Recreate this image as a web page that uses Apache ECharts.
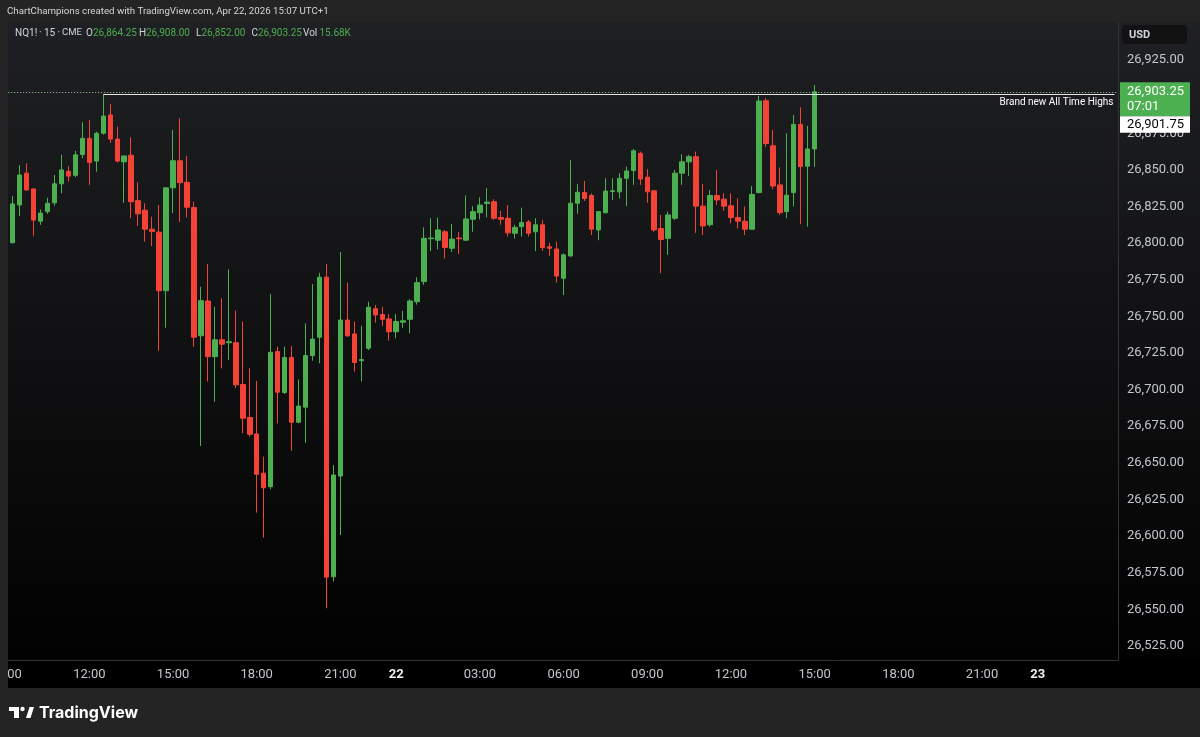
<!DOCTYPE html>
<html>
<head>
<meta charset="utf-8">
<title>NQ1! 15m</title>
<script src="https://cdn.jsdelivr.net/npm/echarts@6/dist/echarts.min.js"></script>
<style>
  html, body { margin: 0; padding: 0; background: #242424; }
  #chart { width: 1200px; height: 737px; }
</style>
</head>
<body>
<div id="chart"></div>
<script>
// NQ1! 15m, bars from Apr 21 09:15 to Apr 22 15:00 (CME break 22:00-23:00 is skipped)
const firstBar = 1; // the 09:00 bar sits under the left frame
const opens = [
  26800.25, 26826.0, 26847.75, 26837.0, 26815.0, 26821.5, 26827.5, 26840.5, 26849.0, 26846.25,
  26860.5, 26871.5, 26856.0, 26875.0, 26887.5, 26871.0, 26855.5, 26860.0, 26829.0, 26822.5,
  26809.5, 26807.5, 26767.5, 26837.75, 26856.25, 26841.5, 26824.25, 26736.75, 26760.5, 26722.5,
  26734.0, 26732.0, 26732.0, 26703.5, 26681.0, 26669.75, 26643.0, 26633.75, 26726.0, 26698.0,
  26722.0, 26677.75, 26688.0, 26723.25, 26735.75, 26776.75, 26572.25, 26641.0, 26747.5, 26738.0,
  26719.75, 26728.25, 26755.25, 26751.25, 26748.25, 26739.5, 26746.0, 26748.0, 26760.0, 26773.75,
  26803.0, 26802.0, 26807.75, 26796.5, 26803.5, 26802.0, 26816.25, 26820.75, 26827.0, 26828.25,
  26817.5, 26817.0, 26806.75, 26811.25, 26814.5, 26807.75, 26812.5, 26797.5, 26796.0, 26776.0,
  26791.25, 26827.25, 26834.5, 26832.5, 26809.0, 26820.75, 26835.25, 26835.0, 26844.25, 26849.5,
  26861.25, 26845.0, 26835.75, 26810.0, 26803.25, 26817.0, 26847.75, 26855.5, 26859.0, 26825.25,
  26812.5, 26832.5, 26830.0, 26825.5, 26817.5, 26815.0, 26809.5, 26834.5, 26897.25, 26866.5,
  26839.75, 26821.5, 26834.5, 26881.0, 26852.5, 26864.25
];
const closes = [
  26826.75, 26846.5, 26836.25, 26815.75, 26820.5, 26827.25, 26840.5, 26850.0, 26845.75, 26860.25,
  26871.5, 26855.0, 26875.0, 26886.75, 26871.0, 26856.0, 26859.5, 26828.25, 26820.0, 26809.5,
  26808.0, 26767.5, 26837.75, 26856.25, 26841.25, 26824.5, 26735.75, 26760.75, 26722.5, 26734.0,
  26731.0, 26732.75, 26703.25, 26680.5, 26669.5, 26642.25, 26633.0, 26725.5, 26698.25, 26722.0,
  26677.75, 26688.75, 26723.25, 26734.5, 26776.75, 26572.0, 26641.75, 26747.5, 26736.75, 26718.5,
  26720.5, 26756.25, 26751.0, 26748.0, 26739.5, 26746.5, 26747.0, 26760.5, 26773.0, 26803.25,
  26803.5, 26809.0, 26797.0, 26802.75, 26803.0, 26816.5, 26821.5, 26826.0, 26828.0, 26817.0,
  26816.25, 26807.0, 26810.75, 26814.0, 26806.75, 26812.5, 26797.0, 26796.5, 26777.5, 26792.0,
  26827.25, 26834.75, 26830.5, 26809.5, 26821.5, 26835.5, 26835.75, 26844.25, 26849.25, 26863.0,
  26843.75, 26835.0, 26809.0, 26802.5, 26819.25, 26847.75, 26855.5, 26859.0, 26825.25, 26811.75,
  26832.5, 26829.5, 26825.25, 26817.5, 26815.0, 26809.5, 26833.25, 26897.0, 26868.0, 26839.0,
  26820.75, 26832.75, 26881.0, 26852.25, 26864.25, 26903.25
];
const lows = [
  26799.75, 26818.5, 26836.0, 26805.0, 26812.5, 26820.0, 26825.5, 26834.0, 26842.0, 26845.0,
  26858.0, 26839.75, 26848.75, 26874.0, 26868.5, 26855.0, 26827.5, 26817.0, 26811.75, 26801.0,
  26798.0, 26726.5, 26742.25, 26820.5, 26814.5, 26817.5, 26729.25, 26661.5, 26705.5, 26691.75,
  26714.5, 26720.25, 26701.0, 26670.25, 26668.0, 26616.0, 26599.0, 26632.0, 26677.0, 26697.0,
  26658.25, 26677.0, 26663.75, 26719.75, 26718.0, 26550.75, 26569.0, 26600.75, 26736.0, 26712.25,
  26705.5, 26727.0, 26745.75, 26743.5, 26733.5, 26735.0, 26742.25, 26738.5, 26758.0, 26771.5,
  26794.5, 26795.75, 26789.5, 26794.0, 26792.5, 26801.75, 26807.75, 26816.25, 26817.5, 26815.75,
  26812.5, 26804.5, 26803.25, 26804.5, 26804.5, 26794.5, 26794.75, 26791.25, 26773.0, 26764.5,
  26790.75, 26820.0, 26828.75, 26805.5, 26802.0, 26820.25, 26829.5, 26830.5, 26825.25, 26839.75,
  26839.75, 26827.5, 26807.75, 26779.5, 26792.0, 26815.75, 26839.75, 26845.75, 26807.0, 26805.5,
  26811.25, 26826.0, 26822.0, 26813.5, 26810.0, 26805.5, 26809.25, 26834.0, 26865.75, 26836.75,
  26819.25, 26817.0, 26825.0, 26813.0, 26811.25, 26852.0
];
const highs = [
  26832.25, 26853.25, 26854.5, 26837.25, 26823.0, 26831.0, 26846.5, 26860.25, 26852.5, 26863.0,
  26882.5, 26884.0, 26876.0, 26901.75, 26895.0, 26879.5, 26860.0, 26872.25, 26841.5, 26827.25,
  26818.0, 26826.0, 26838.0, 26877.25, 26885.25, 26859.5, 26828.25, 26770.25, 26785.75, 26756.5,
  26762.25, 26782.0, 26754.0, 26746.5, 26714.5, 26706.0, 26654.25, 26765.25, 26729.25, 26729.25,
  26729.75, 26707.0, 26745.25, 26772.0, 26779.75, 26785.75, 26648.5, 26794.0, 26773.0, 26746.5,
  26743.5, 26760.0, 26757.75, 26756.5, 26751.5, 26751.5, 26753.75, 26761.75, 26776.75, 26810.75,
  26817.0, 26817.5, 26809.0, 26813.0, 26807.5, 26832.5, 26825.25, 26831.25, 26837.5, 26830.0,
  26822.0, 26826.0, 26812.5, 26824.25, 26815.75, 26817.0, 26815.75, 26800.25, 26801.0, 26793.0,
  26856.75, 26840.5, 26842.5, 26834.0, 26822.0, 26844.25, 26844.25, 26847.75, 26852.25, 26864.25,
  26862.5, 26850.5, 26836.0, 26819.25, 26821.5, 26850.0, 26860.75, 26860.25, 26862.5, 26840.5,
  26836.25, 26850.0, 26834.0, 26834.0, 26830.5, 26825.0, 26839.0, 26900.5, 26899.0, 26877.25,
  26851.75, 26875.0, 26887.5, 26892.75, 26880.0, 26908.0
];

// price scale ticks on the right
const yTicks = [26525, 26550, 26575, 26600, 26625, 26650, 26675, 26700, 26725,
  26750, 26775, 26800, 26825, 26850, 26875, 26900, 26925];
// time scale labels (category key -> shown text)
const xTickKeys = ['21 09:00', '21 12:00', '21 15:00', '21 18:00', '21 21:00', '22 00:00', '22 03:00',
  '22 06:00', '22 09:00', '22 12:00', '22 15:00', '22 18:00', '22 21:00', '23 00:00'];
const xTickText = ['09:00', '12:00', '15:00', '18:00', '21:00', '22', '03:00',
  '06:00', '09:00', '12:00', '15:00', '18:00', '21:00', '23'];

const athPrice = 26901.75;   // old high, set by the 12:15 bar
const athBar = 14;
const lastVol = '15.68K';
const countdown = '07:01';

const yMin = 26515.44, yMax = 26950.94;
const nBars = 160;
const FONT = 'Roboto, "Noto Sans", sans-serif';
const UP = '#4caf50', DOWN = '#f44336';

// category list, 15 minute steps, no bars 22:00-22:45
const pad = (n) => (n < 10 ? '0' : '') + n;
const categories = [];
let mins = 9 * 60, day = 21;
while (categories.length < nBars) {
  const h = Math.floor(mins / 60) % 24, m = mins % 60;
  if (h !== 22) categories.push(day + ' ' + pad(h) + ':' + pad(m));
  mins += 15;
  if (mins % 1440 === 0) day++;
}
const tickMap = {};
xTickKeys.forEach((k, i) => { tickMap[k] = xTickText[i]; });

const candles = [];
for (let i = 0; i < firstBar; i++) candles.push(['-', '-', '-', '-']);
opens.forEach((o, i) => candles.push([o, closes[i], lows[i], highs[i]]));

const fmt2 = (v) => v.toLocaleString('en-US', { minimumFractionDigits: 2, maximumFractionDigits: 2 });
const last = opens.length - 1;
const lastClose = closes[last];

const chart = echarts.init(document.getElementById('chart'));

const frame = '#242424';
const txt = (id, x, y, text, fill, size, weight, family) => ({
  id, type: 'text', z: 120,
  style: { x, y, text, fill, fontSize: size, fontFamily: family || FONT, fontWeight: weight || 'normal', verticalAlign: 'middle' }
});

const option = {
  backgroundColor: frame,
  animation: false,
  grid: { left: 2.2, right: 82, top: 22, bottom: 77, outerBoundsMode: 'none', containLabel: false },
  xAxis: {
    type: 'category',
    data: categories,
    boundaryGap: true,
    axisLine: { show: true, lineStyle: { color: '#333' } },
    axisTick: { show: false },
    splitLine: { show: false },
    axisLabel: {
      interval: (i, v) => tickMap[v] !== undefined,
      formatter: (v) => (tickMap[v].indexOf(':') < 0 ? '{day|' + tickMap[v] + '}' : tickMap[v]),
      margin: 8,
      color: '#c3c6cd',
      fontSize: 13,
      fontFamily: FONT,
      rich: { day: { color: '#f0f0f0', fontWeight: 'bold', fontSize: 13, fontFamily: FONT } }
    }
  },
  yAxis: {
    type: 'value',
    position: 'right',
    min: yMin,
    max: yMax,
    axisLine: { show: true, lineStyle: { color: '#333' } },
    axisTick: { show: false },
    splitLine: { show: false },
    axisLabel: {
      customValues: yTicks,
      formatter: fmt2,
      margin: 9,
      color: '#c3c6cd',
      fontSize: 13,
      fontFamily: FONT
    }
  },
  series: [{
    type: 'candlestick',
    data: candles,
    barWidth: 5,
    itemStyle: {
      color: UP, color0: DOWN,
      borderColor: UP, borderColor0: DOWN,
      borderWidth: 1
    },
    markLine: {
      symbol: 'none',
      silent: true,
      animation: false,
      data: [
        { yAxis: lastClose, lineStyle: { type: [1, 2], color: '#9ccf9e', width: 1 }, label: { show: false } },
        [
          {
            coord: [athBar, athPrice],
            lineStyle: { type: 'solid', color: '#e6e6e6', width: 1 },
            label: {
              show: true, position: 'insideEndBottom', formatter: 'Brand new All Time Highs',
              color: '#ffffff', fontSize: 10, fontFamily: FONT, distance: [1, 3]
            }
          },
          { coord: [nBars - 1, athPrice] }
        ]
      ]
    }
  }],
  graphic: [
    // pane background, dark grey fading to black
    {
      id: 'bg', type: 'rect', z: -10, silent: true,
      shape: { x: 8, y: 22, width: 1192, height: 666 },
      style: { fill: new echarts.graphic.LinearGradient(0, 0, 0, 1, [
        { offset: 0, color: '#1f2023' }, { offset: 1, color: '#000000' }
      ]) }
    },
    { id: 'timebg', type: 'rect', z: -9, silent: true, shape: { x: 8, y: 660, width: 1192, height: 28 }, style: { fill: '#000' } },
    // frame
    { id: 'ftop', type: 'rect', z: 100, shape: { x: 0, y: 0, width: 1200, height: 22 }, style: { fill: frame } },
    { id: 'fleft', type: 'rect', z: 100, shape: { x: 0, y: 0, width: 8, height: 737 }, style: { fill: frame } },
    { id: 'fbot', type: 'rect', z: 100, shape: { x: 0, y: 688, width: 1200, height: 49 }, style: { fill: frame } },
    txt('hdr', 7, 12, 'ChartChampions created with TradingView.com, Apr 22, 2026 15:07 UTC+1', '#d6d6d6', 9.7),
    // legend line
    txt('sym1', 15, 33, 'NQ1!', '#d1d4dc', 10), txt('sym2', 39, 33, '\u00b7', '#d1d4dc', 10),
    txt('sym3', 44, 33, '15', '#d1d4dc', 10), txt('sym4', 57.5, 33, '\u00b7', '#d1d4dc', 10),
    txt('sym5', 62, 33, 'CME', '#d1d4dc', 9.5),
    txt('lo', 86, 33, 'O', '#d1d4dc', 10), txt('vo', 93, 33, fmt2(opens[last]), UP, 10),
    txt('lh', 139, 33, 'H', '#d1d4dc', 10), txt('vh', 146, 33, fmt2(highs[last]), UP, 10),
    txt('ll', 196, 33, 'L', '#d1d4dc', 10), txt('vl', 201.5, 33, fmt2(lows[last]), UP, 10),
    txt('lc', 251.5, 33, 'C', '#d1d4dc', 10), txt('vc', 258, 33, fmt2(closes[last]), UP, 10),
    txt('lv', 303, 33, 'Vol', '#d1d4dc', 10), txt('vv', 319.5, 33, lastVol, UP, 10),
    // currency box
    { id: 'usdbox', type: 'rect', z: 110, shape: { x: 1122, y: 25, width: 65, height: 19, r: 4 }, style: { fill: '#121212' } },
    txt('usd', 1129, 35, 'USD', '#d1d4dc', 11, 'bold'),
    // TradingView logo
    { id: 'lg1', type: 'rect', z: 120, shape: { x: 9, y: 707, width: 10, height: 4 }, style: { fill: '#fff' } },
    { id: 'lg2', type: 'rect', z: 120, shape: { x: 14, y: 707, width: 5, height: 11 }, style: { fill: '#fff' } },
    { id: 'lg3', type: 'circle', z: 120, shape: { cx: 22.5, cy: 709, r: 2.2 }, style: { fill: '#fff' } },
    { id: 'lg4', type: 'polygon', z: 120, shape: { points: [[26, 718], [29.5, 707], [34, 707], [30.5, 718]] }, style: { fill: '#fff' } },
    txt('lgt', 39, 713, 'TradingView', '#ffffff', 16, 'bold', 'Inter, Roboto, sans-serif')
  ]
};

chart.setOption(option);

// price tags on the axis, placed through the y scale
const yNow = chart.convertToPixel({ yAxisIndex: 0 }, lastClose);
chart.setOption({
  graphic: [
    { id: 'tagG', type: 'rect', z: 110, shape: { x: 1120, y: yNow - 9.5, width: 70, height: 34 }, style: { fill: UP } },
    txt('tagG1', 1127, yNow, fmt2(lastClose), '#fff', 13),
    txt('tagG2', 1127, yNow + 15, countdown, '#fff', 13),
    { id: 'tagW', type: 'rect', z: 110, shape: { x: 1120, y: yNow + 24.5, width: 70, height: 16.5 }, style: { fill: '#fff' } },
    txt('tagW1', 1127, yNow + 33, fmt2(athPrice), '#000', 13)
  ]
});
</script>
</body>
</html>
